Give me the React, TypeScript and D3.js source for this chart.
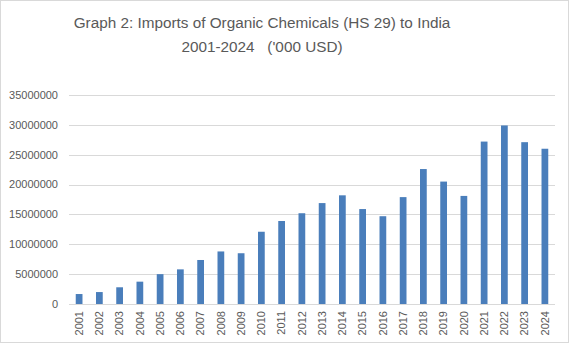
import React from "react";
import * as d3 from "d3";

const years = ["2001","2002","2003","2004","2005","2006","2007","2008","2009","2010","2011","2012","2013","2014","2015","2016","2017","2018","2019","2020","2021","2022","2023","2024"];
const imports = [1670000,2000000,2800000,3740000,5000000,5800000,7370000,8800000,8500000,12100000,13900000,15200000,16900000,18200000,15900000,14700000,17900000,22600000,20500000,18100000,27200000,29900000,27100000,26000000];
const yTicks = [0,5000000,10000000,15000000,20000000,25000000,30000000,35000000];
const titleLines = ["Graph 2: Imports of Organic Chemicals (HS 29) to India", "2001-2024   ('000 USD)"];

const W = 570, H = 346;
const left = 69, right = 555, top = 95, bottom = 304;

export default function App() {
  const x = d3.scaleBand<string>().domain(years).range([left, right]).paddingInner(0.667).paddingOuter(0.333);
  const y = d3.scaleLinear().domain([0, 35000000]).range([bottom, top]);
  const font = "'Liberation Sans', Arial, sans-serif";
  return (
    <div style={{ position: "absolute", left: 0, top: 0 }}>
      <svg width={W} height={H} style={{ display: "block" }}>
        <rect x={0} y={0} width={W} height={H} fill="#fff" />
        <rect x={0.5} y={0.5} width={568} height={342} fill="#fff" stroke="#d9d9d9" />
        {titleLines.map((t, i) => (
          <text key={i} x={262} y={28 + i * 23.5} textAnchor="middle" fontFamily={font} fontSize={15.3} fill="#595959" style={{ whiteSpace: "pre" }}>{t}</text>
        ))}
        {yTicks.map((t) => (
          <g key={t}>
            <line x1={left} x2={right} y1={Math.round(y(t)) + 0.5} y2={Math.round(y(t)) + 0.5} stroke="#d9d9d9" strokeWidth={1} />
            <text x={58} y={y(t)} dy="0.35em" textAnchor="end" fontFamily={font} fontSize={11} fill="#595959">{t}</text>
          </g>
        ))}
        {years.map((yr, i) => (
          <rect key={yr} x={x(yr)!} y={y(imports[i])} width={x.bandwidth()} height={y(0) - y(imports[i])} fill="#4a7ebb" />
        ))}
        {years.map((yr) => {
          const cx = x(yr)! + x.bandwidth() / 2;
          return (
            <text key={yr} transform={`translate(${cx},311) rotate(-90)`} dy="0.35em" textAnchor="end" fontFamily={font} fontSize={11} fill="#595959">{yr}</text>
          );
        })}
      </svg>
    </div>
  );
}
